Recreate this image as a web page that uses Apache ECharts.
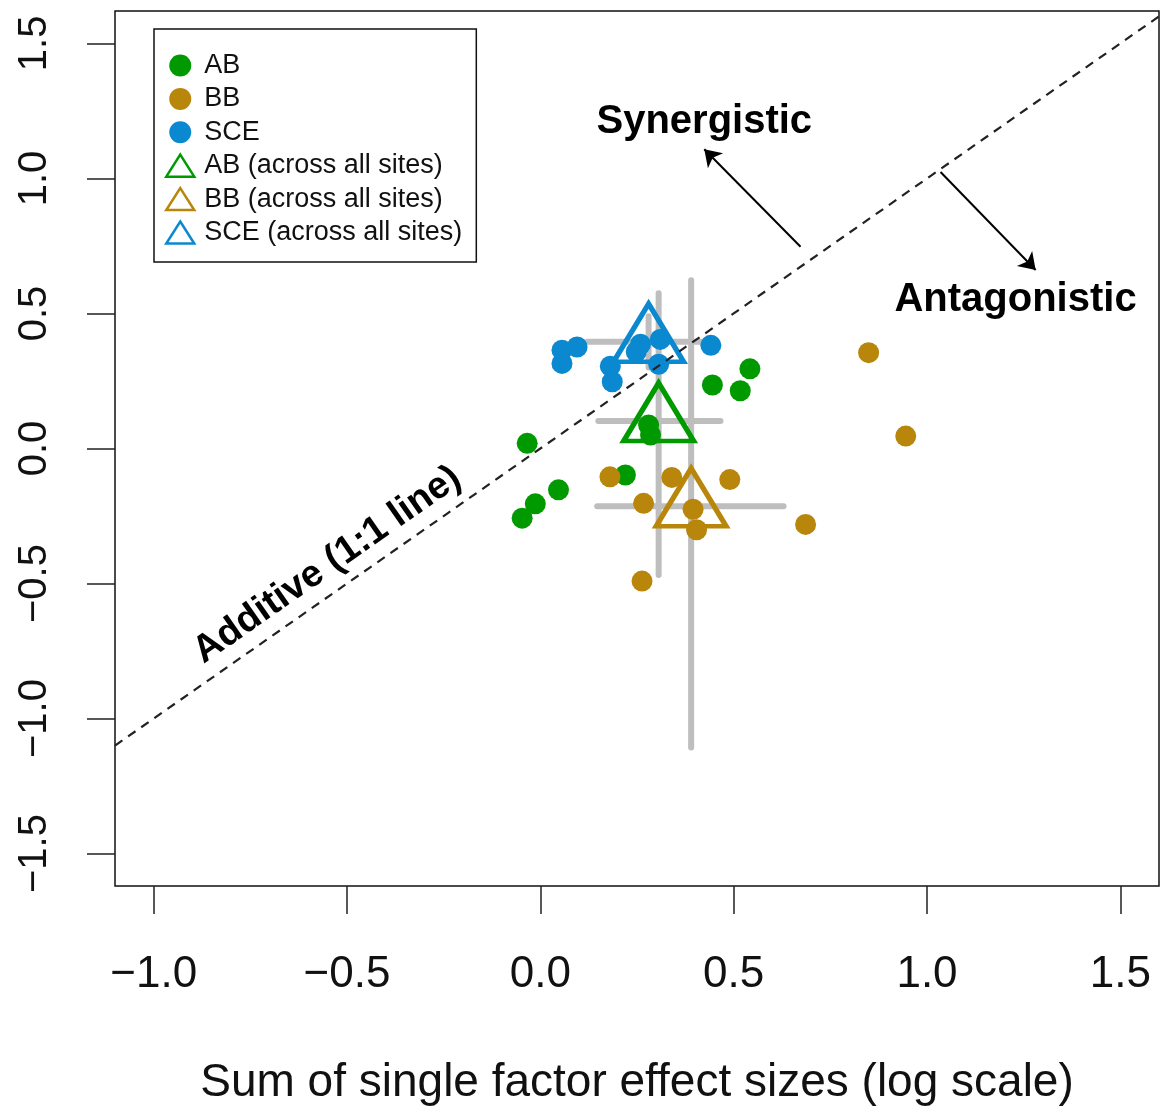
<!DOCTYPE html>
<html><head><meta charset="utf-8">
<script src="https://cdn.jsdelivr.net/npm/echarts@6/dist/echarts.min.js"></script>
<style>html,body{margin:0;padding:0;background:#fff}#c{width:1165px;height:1115px}</style>
</head><body><div id="c"></div>
<script>
// ---- data ----
const xTicks = [-1.0, -0.5, 0.0, 0.5, 1.0, 1.5];
const yTicks = [-1.5, -1.0, -0.5, 0.0, 0.5, 1.0, 1.5];

const abPoints = [[-0.034, 0.019], [0.047, -0.153], [-0.013, -0.205], [-0.047, -0.258], [0.22, -0.098],
                  [0.28, 0.087], [0.285, 0.05], [0.445, 0.235], [0.517, 0.214], [0.542, 0.295]];
const bbPoints = [[0.18, -0.105], [0.267, -0.203], [0.34, -0.107], [0.49, -0.115], [0.395, -0.225],
                  [0.404, -0.301], [0.263, -0.491], [0.686, -0.281], [0.849, 0.355], [0.945, 0.046]];
const scePoints = [[0.056, 0.364], [0.095, 0.376], [0.056, 0.315], [0.181, 0.305], [0.186, 0.247],
                   [0.259, 0.386], [0.248, 0.358], [0.31, 0.404], [0.306, 0.312], [0.441, 0.382]];

const groupNames = ['AB', 'BB', 'SCE'];
const meanX = [0.306, 0.39, 0.28];
const meanY = [0.102, -0.214, 0.395];
const xLow  = [0.150, 0.147, 0.122];
const xHigh = [0.466, 0.629, 0.43];
const yLow  = [-0.468, -1.107, 0.30];
const yHigh = [0.575, 0.623, 0.49];

const lineX = [-1.1, 1.6];   // 1:1 line
const annoTexts = ['Synergistic', 'Antagonistic', 'Additive (1:1 line)'];
const annoX = [0.424, 1.229, -0.551];
const annoY = [1.209, 0.55, -0.431];
const annoRot = [0, 0, 34.9];
const annoSize = [40, 40, 38];
const arrowFrom = [[0.673, 0.747], [1.035, 1.024]];
const arrowTo   = [[0.424, 1.108], [1.281, 0.661]];

// ---- styles ----
const colors = ['#009a00', '#b8860b', '#0a88d0'];
const FONT = '"Liberation Sans", Arial, Helvetica, sans-serif';
const fmt = v => (v < 0 ? '\u2212' : '') + Math.abs(v).toFixed(1);

const pointSets = [abPoints, bbPoints, scePoints];
const series = [];

// error bars
series.push({
  type: 'custom', name: 'errbars', z: 1, silent: true,
  data: meanX.map((x, i) => [x, meanY[i], xLow[i], xHigh[i], yLow[i], yHigh[i]]),
  encode: { x: 0, y: 1 },
  renderItem: function (params, api) {
    const x = api.value(0), y = api.value(1);
    const a = api.coord([api.value(2), y]), b = api.coord([api.value(3), y]);
    const c = api.coord([x, api.value(4)]), d = api.coord([x, api.value(5)]);
    const st = { stroke: '#bebebe', lineWidth: 6, lineCap: 'round' };
    return { type: 'group', children: [
      { type: 'line', shape: { x1: a[0], y1: a[1], x2: b[0], y2: b[1] }, style: st },
      { type: 'line', shape: { x1: c[0], y1: c[1], x2: d[0], y2: d[1] }, style: st }
    ]};
  }
});

// triangles (means)
groupNames.forEach((g, i) => {
  series.push({
    type: 'scatter', name: g + ' (across all sites)', z: 3,
    symbol: 'triangle', symbolSize: [70, 58], symbolOffset: [0, -9], symbolKeepAspect: false,
    itemStyle: { color: 'rgba(255,255,255,0)', borderColor: colors[i], borderWidth: 5, opacity: 1 },
    data: [[meanX[i], meanY[i]]], silent: true
  });
});

// site points
groupNames.forEach((g, i) => {
  series.push({
    type: 'scatter', name: g, z: 4, symbol: 'circle', symbolSize: 21,
    itemStyle: { color: colors[i], opacity: 1 }, data: pointSets[i], silent: true
  });
});

// 1:1 line + arrows
series.push({
  type: 'line', name: 'oneToOne', z: 6, silent: true, showSymbol: false, symbol: 'none',
  data: lineX.map(v => [v, v]),
  lineStyle: { color: '#222', width: 2.2, type: [9, 7] },
  markLine: {
    silent: true, symbol: ['none', 'arrow'], symbolSize: 16, animation: false,
    label: { show: false },
    lineStyle: { color: '#000', width: 2, type: 'solid' },
    data: arrowFrom.map((f, i) => [{ coord: f }, { coord: arrowTo[i] }])
  }
});

// annotation texts
series.push({
  type: 'custom', name: 'annotations', z: 7, silent: true,
  data: annoTexts.map((t, i) => [annoX[i], annoY[i], annoRot[i], annoSize[i]]),
  encode: { x: 0, y: 1 },
  renderItem: function (params, api) {
    const p = api.coord([api.value(0), api.value(1)]);
    return {
      type: 'text', x: p[0], y: p[1], rotation: api.value(2) * Math.PI / 180,
      style: { text: annoTexts[params.dataIndex], fill: '#000',
        font: 'bold ' + api.value(3) + 'px ' + FONT, align: 'center', verticalAlign: 'middle' }
    };
  }
});

const legendData = groupNames.map((g, i) => ({ name: g, icon: 'circle' }))
  .concat(groupNames.map((g, i) => ({
    name: g + ' (across all sites)', icon: 'triangle',
    itemStyle: { color: 'rgba(255,255,255,0)', borderColor: colors[i], borderWidth: 2.5 }
  })));

const chart = echarts.init(document.getElementById('c'), null, { renderer: 'canvas' });
chart.setOption({
  animation: false,
  backgroundColor: '#fff',
  grid: { left: 115, right: 6, top: 11, bottom: 229, show: true, borderColor: '#111', borderWidth: 1.5,
          backgroundColor: 'rgba(0,0,0,0)' },
  legend: {
    orient: 'vertical', left: 154, top: 29, selectedMode: false,
    padding: [23, 14, 16, 11], itemWidth: 28, itemHeight: 22, itemGap: 6.4,
    borderColor: '#111', borderWidth: 1.5,
    textStyle: { fontSize: 27, lineHeight: 22, color: '#111', fontFamily: FONT, padding: [0, 0, 0, 5] },
    data: legendData
  },
  xAxis: {
    type: 'value', min: -1.1, max: 1.6,
    axisLine: { show: false, onZero: false },
    splitLine: { show: false },
    axisTick: { show: true, length: 28, customValues: xTicks, lineStyle: { color: '#222', width: 1.5 } },
    axisLabel: { customValues: xTicks, formatter: fmt, fontSize: 44, color: '#111', fontFamily: FONT, margin: 67 },
    name: 'Sum of single factor effect sizes (log scale)', nameLocation: 'middle', nameGap: 174,
    nameTextStyle: { fontSize: 46, color: '#111', fontFamily: FONT }
  },
  yAxis: {
    type: 'value', min: -1.62, max: 1.62,
    axisLine: { show: false, onZero: false },
    splitLine: { show: false },
    axisTick: { show: true, length: 28, customValues: yTicks, lineStyle: { color: '#222', width: 1.5 } },
    axisLabel: { customValues: yTicks, formatter: fmt, rotate: 90, fontSize: 40, color: '#111', fontFamily: FONT, margin: 60 }
  },
  series: series
});
</script>
</body></html>
